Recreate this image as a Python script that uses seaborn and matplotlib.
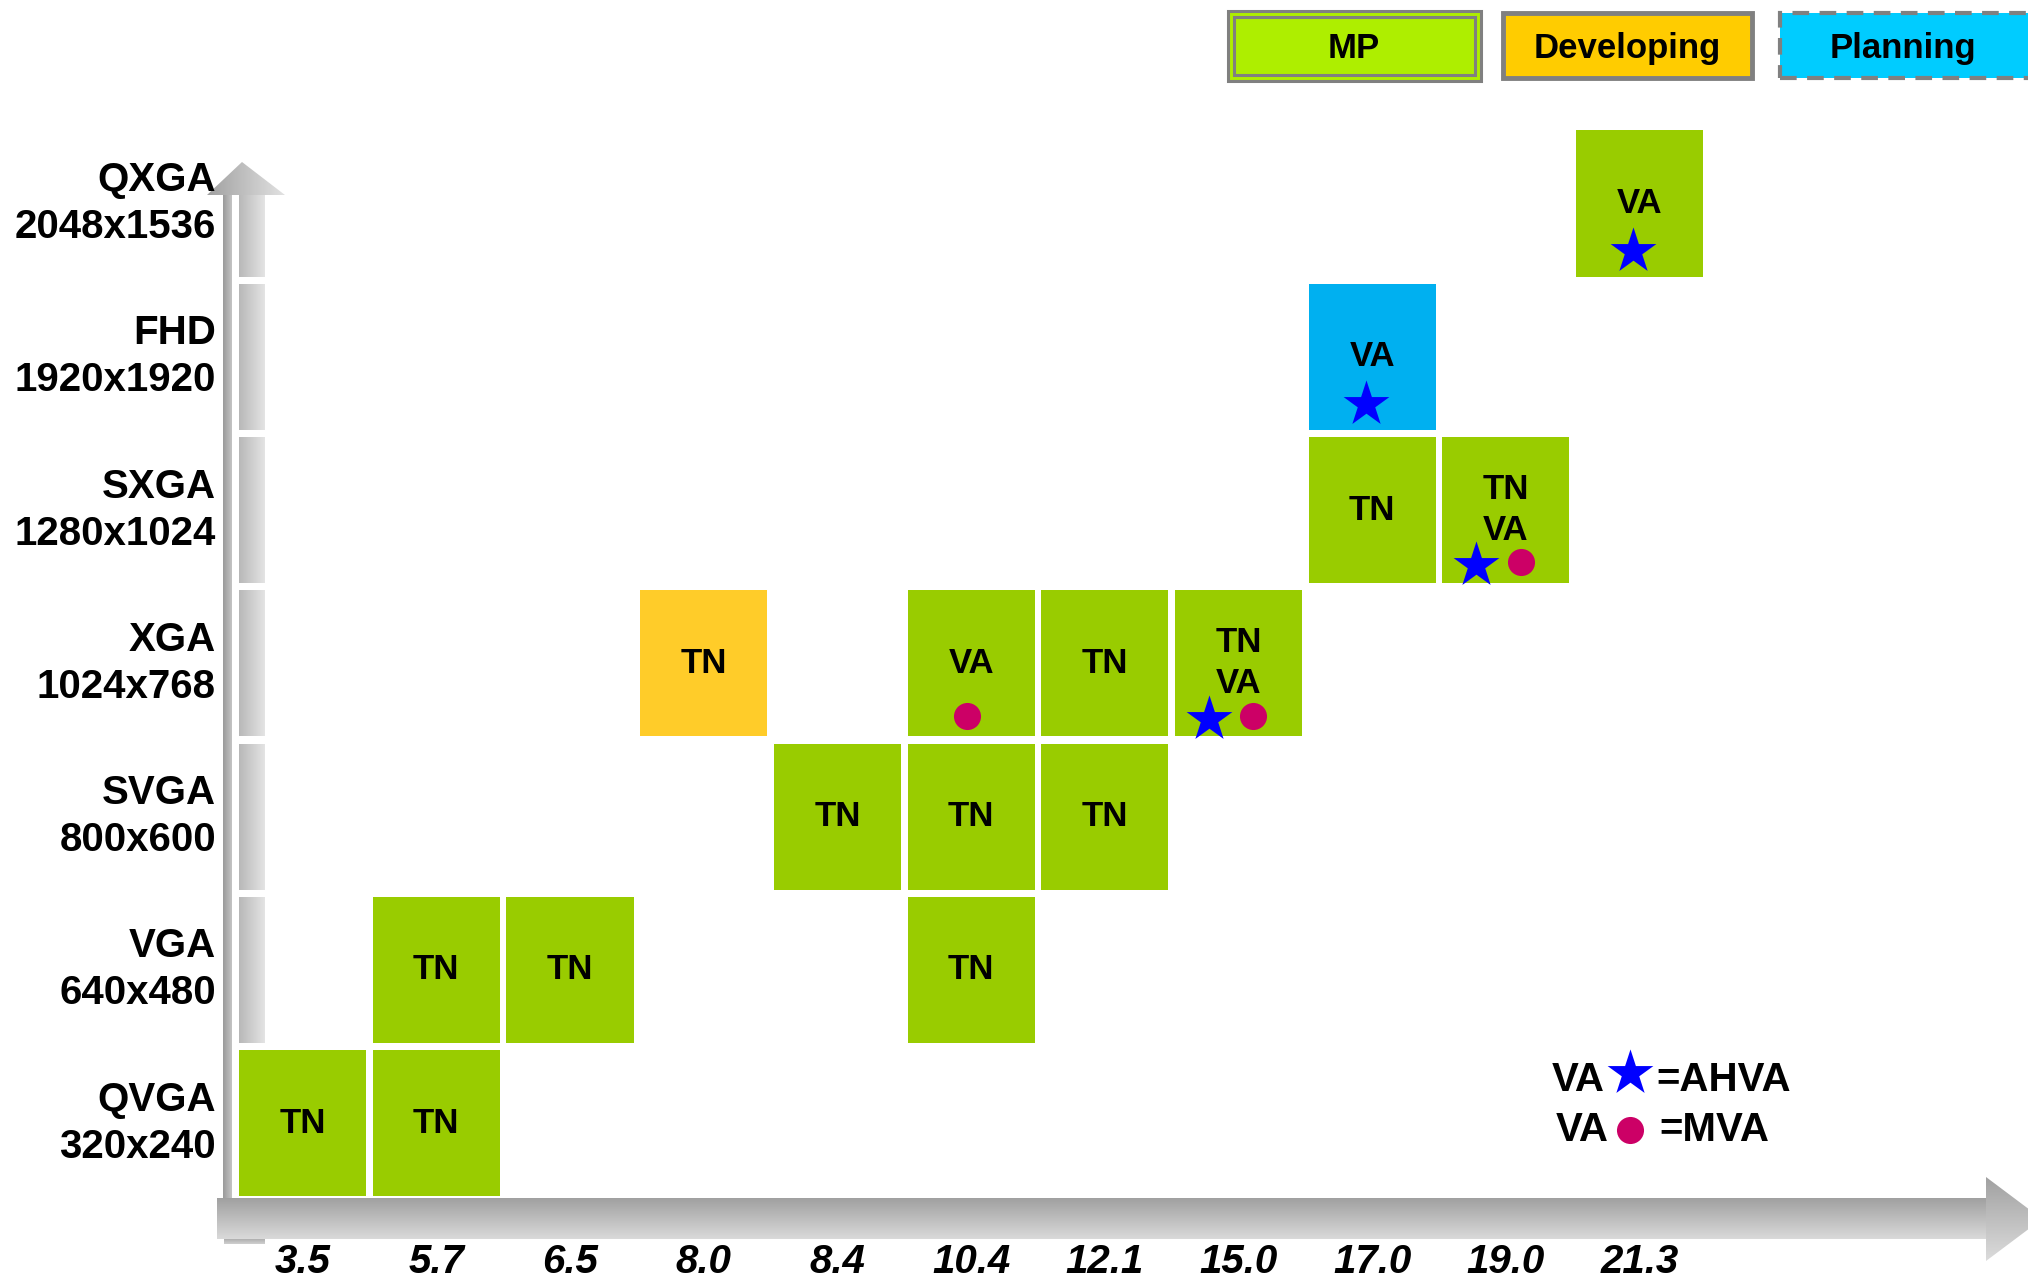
import numpy as np
import pandas as pd
import matplotlib
matplotlib.use('Agg')
import matplotlib.pyplot as plt
from matplotlib.patches import Rectangle, Polygon
from matplotlib.colors import LinearSegmentedColormap
import seaborn as sns

# =========================
# DATA
# =========================
sizes = ['3.5', '5.7', '6.5', '8.0', '8.4', '10.4', '12.1', '15.0', '17.0', '19.0', '21.3']
res_names = ['QVGA', 'VGA', 'SVGA', 'XGA', 'SXGA', 'FHD', 'QXGA']
res_pixels = ['320x240', '640x480', '800x600', '1024x768', '1280x1024', '1920x1920', '2048x1536']

cell_size = ['3.5', '5.7', '5.7', '6.5', '10.4', '8.4', '10.4', '12.1',
             '8.0', '10.4', '12.1', '15.0', '17.0', '19.0', '17.0', '21.3']
cell_res = ['QVGA', 'QVGA', 'VGA', 'VGA', 'VGA', 'SVGA', 'SVGA', 'SVGA',
            'XGA', 'XGA', 'XGA', 'XGA', 'SXGA', 'SXGA', 'FHD', 'QXGA']
cell_tech = ['TN', 'TN', 'TN', 'TN', 'TN', 'TN', 'TN', 'TN',
             'TN', 'VA', 'TN', 'TN\nVA', 'TN', 'TN\nVA', 'VA', 'VA']
cell_status = ['MP', 'MP', 'MP', 'MP', 'MP', 'MP', 'MP', 'MP',
               'Developing', 'MP', 'MP', 'MP', 'MP', 'MP', 'Planning', 'MP']
cell_ahva = [0, 0, 0, 0, 0, 0, 0, 0, 0, 0, 0, 1, 0, 1, 1, 1]
cell_mva = [0, 0, 0, 0, 0, 0, 0, 0, 0, 1, 0, 1, 0, 1, 0, 0]

status_names = ['MP', 'Developing', 'Planning']

# =========================
# STYLE
# =========================
sns.set_theme(style='white')
plt.rcParams['font.family'] = ['Liberation Sans', 'DejaVu Sans']
plt.rcParams['text.color'] = 'black'

cell_colors = {'MP': '#99CC00', 'Developing': '#FFCC29', 'Planning': '#00B0F0'}
legend_colors = {'MP': '#AEEE00', 'Developing': '#FFCC00', 'Planning': '#00CCFF'}
star_color = '#0000FF'
dot_color = '#CC0066'

W, H = 2028, 1281
X0, XP = 302.6, 133.7     # centre of first column / column pitch (px)
Y0, YP = 1123.3, 153.3    # centre of first row / row pitch (px)
CW, CH = 0.95, 0.953      # cell size in pitch units


def dx(p):
    return (p - X0) / XP


def dy(t):
    return (Y0 - t) / YP


fig = plt.figure(figsize=(W / 100, H / 100), dpi=100)
ax = fig.add_axes([0, 0, 1, 1])
ax.set_axis_off()


def gradient(verts_px, c0, c1, horizontal, z):
    verts = [(dx(p), dy(t)) for p, t in verts_px]
    xs = [v[0] for v in verts]
    ys = [v[1] for v in verts]
    poly = Polygon(verts, closed=True, facecolor='none', edgecolor='none')
    ax.add_patch(poly)
    cmap = LinearSegmentedColormap.from_list('g', [c0, c1])
    g = np.linspace(0, 1, 256)
    if horizontal:
        img = g[None, :]
        origin = 'lower'
    else:
        img = g[:, None]
        origin = 'upper'
    im = ax.imshow(img, extent=[min(xs), max(xs), min(ys), max(ys)], cmap=cmap,
                   aspect='auto', origin=origin, zorder=z, interpolation='bilinear')
    im.set_clip_path(poly)


# =========================
# AXIS ARROWS
# =========================
# vertical arrow: dark side strip, head and light segmented shaft
gradient([(223, 185), (232, 185), (232, 1198), (223, 1198)], '#9A9A9A', '#C4C4C4', True, 1)
gradient([(207, 195), (242, 162), (285, 195)], '#A0A0A0', '#E2E2E2', True, 1)
for j in range(len(res_names)):
    top = min(dy(195), j + CH / 2)
    t_top = Y0 - top * YP
    t_bot = Y0 - (j - CH / 2) * YP
    gradient([(239, t_top), (265, t_top), (265, t_bot), (239, t_bot)],
             '#B8B8B8', '#E4E4E4', True, 1)
gradient([(224, 1239), (265, 1239), (265, 1244), (224, 1244)], '#A8A8A8', '#D0D0D0', False, 1)

# horizontal arrow
gradient([(217, 1198), (1988, 1198), (1988, 1239), (217, 1239)], '#A0A0A0', '#DADADA', False, 1)
gradient([(1986, 1177), (2042, 1219), (1986, 1261)], '#A0A0A0', '#DCDCDC', False, 1)

# =========================
# CELLS
# =========================
df = pd.DataFrame({'size': cell_size, 'res': cell_res, 'tech': cell_tech,
                   'status': cell_status, 'ahva': cell_ahva, 'mva': cell_mva})
df['x'] = df['size'].map(sizes.index)
df['y'] = df['res'].map(res_names.index)

for _, r in df.iterrows():
    ax.add_patch(Rectangle((r.x - CW / 2, r.y - CH / 2), CW, CH,
                           facecolor=cell_colors[r.status], edgecolor='none', zorder=2))
    ax.text(r.x, r.y + 0.0, r.tech, ha='center', va='center', fontsize=25,
            fontweight='bold', color='black', zorder=3, linespacing=1.3)

# marker placement inside cell
stars = df[df.ahva == 1].copy()
dots = df[df.mva == 1].copy()
both_s = stars.mva == 1
stars['mx'] = stars.x + np.where(both_s, -0.22, -0.05)
stars['my'] = stars.y + np.where(both_s, -0.36, -0.31)
both_d = dots.ahva == 1
dots['mx'] = dots.x + np.where(both_d, 0.11, -0.03)
dots['my'] = dots.y + np.where(both_d, -0.34, -0.34)

sns.scatterplot(data=stars, x='mx', y='my', marker='*', s=1200, color=star_color,
                linewidth=0, ax=ax, zorder=4, legend=False)
sns.scatterplot(data=dots, x='mx', y='my', marker='o', s=380, color=dot_color,
                linewidth=0, ax=ax, zorder=4, legend=False)

# =========================
# TICK LABELS
# =========================
for i, s in enumerate(sizes):
    ax.text(i, dy(1262), s, ha='center', va='center', fontsize=29,
            fontweight='bold', fontstyle='italic', color='black')
for j, (n, p) in enumerate(zip(res_names, res_pixels)):
    ax.text(dx(216), j, n + '\n' + p, ha='right', va='center', fontsize=29,
            fontweight='bold', color='black', linespacing=1.3)

# =========================
# STATUS LEGEND (top)
# =========================
def rect_px(p0, t0, p1, t1, **kw):
    ax.add_patch(Rectangle((dx(p0), dy(t1)), dx(p1) - dx(p0), dy(t0) - dy(t1), **kw))


rect_px(1228, 11, 1481, 81, facecolor=legend_colors['MP'], edgecolor='#808080', lw=2.2, zorder=5)
rect_px(1234, 17, 1475, 75, facecolor='none', edgecolor='#808080', lw=2.2, zorder=5)
rect_px(1503, 13, 1752, 78, facecolor=legend_colors['Developing'], edgecolor='#808080', lw=3.5, zorder=5)
rect_px(1780, 13, 2060, 78, facecolor=legend_colors['Planning'], edgecolor='#808080', lw=3,
        linestyle=(0, (4, 2.5)), zorder=5)
for name, p in zip(status_names, [1354, 1627, 1903]):
    ax.text(dx(p), dy(49), name, ha='center', va='center', fontsize=25,
            fontweight='bold', color='black', zorder=6)

# =========================
# MARKER KEY (bottom right)
# =========================
key_font = dict(ha='left', va='center', fontsize=29, fontweight='bold', color='black')
ax.text(dx(1552), dy(1080), 'VA', **key_font)
ax.text(dx(1656), dy(1080), '=AHVA', **key_font)
ax.text(dx(1556), dy(1130), 'VA', **key_font)
ax.text(dx(1659), dy(1130), '=MVA', **key_font)
ax.scatter([dx(1630)], [dy(1073)], marker='*', s=1200, color=star_color, linewidths=0, zorder=4)
ax.scatter([dx(1630)], [dy(1130)], marker='o', s=380, color=dot_color, linewidths=0, zorder=4)

ax.set_xlim(dx(0), dx(W))
ax.set_ylim(dy(H), dy(0))

fig.savefig('out.png', dpi=100)
